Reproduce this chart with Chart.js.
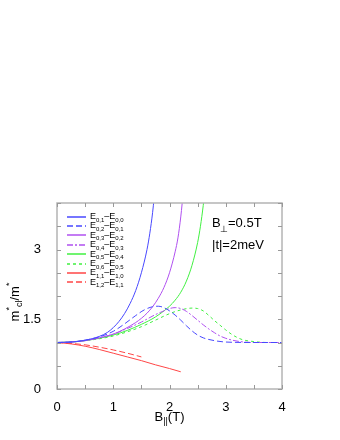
<!DOCTYPE html>
<html>
<head>
<meta charset="utf-8">
<script src="https://cdn.jsdelivr.net/npm/chart.js@4"></script>
<style>html,body{margin:0;padding:0;background:#fff}</style>
</head>
<body>
<canvas id="massRatio" width="340" height="440"></canvas>
<script>
// tick labels
const xTicks = [0, 1, 2, 3, 4];
const yTicks = [0, 1.5, 3];

// E0,1 - E0,0
const b01 = [0, 0.25, 0.5, 0.75, 0.9, 1.0, 1.1, 1.2, 1.3, 1.4, 1.5, 1.6, 1.65, 1.7, 1.75];
const m01 = [1, 1.01, 1.05, 1.13, 1.22, 1.32, 1.45, 1.62, 1.84, 2.12, 2.5, 3.0, 3.35, 3.8, 4.4];
// E0,2 - E0,1
const b12 = [0, 0.25, 0.5, 0.75, 1.0, 1.2, 1.4, 1.55, 1.7, 1.8, 1.9, 2.0, 2.1, 2.2, 2.3, 2.4, 2.5, 2.6, 2.8, 3.0, 3.5, 4.0];
const m12 = [1, 1.01, 1.05, 1.12, 1.24, 1.4, 1.58, 1.7, 1.77, 1.78, 1.75, 1.68, 1.59, 1.48, 1.36, 1.25, 1.16, 1.1, 1.04, 1.01, 1.0, 1.0];
// E0,3 - E0,2
const b23 = [0, 0.25, 0.5, 0.75, 1.0, 1.2, 1.4, 1.5, 1.6, 1.7, 1.8, 1.9, 2.0, 2.1, 2.15, 2.2, 2.25];
const m23 = [1, 1.01, 1.04, 1.1, 1.18, 1.29, 1.43, 1.52, 1.63, 1.77, 1.95, 2.18, 2.5, 2.95, 3.25, 3.7, 4.3];
// E0,4 - E0,3
const b34 = [0, 0.25, 0.5, 0.75, 1.0, 1.25, 1.5, 1.75, 1.9, 2.0, 2.1, 2.2, 2.3, 2.4, 2.5, 2.6, 2.7, 2.8, 2.9, 3.0, 3.2, 3.5, 4.0];
const m34 = [1, 1.01, 1.04, 1.1, 1.18, 1.3, 1.44, 1.6, 1.68, 1.73, 1.75, 1.73, 1.67, 1.58, 1.48, 1.38, 1.29, 1.21, 1.14, 1.09, 1.03, 1.0, 1.0];
// E0,5 - E0,4
const b45 = [0, 0.25, 0.5, 0.75, 1.0, 1.25, 1.5, 1.75, 2.0, 2.1, 2.2, 2.3, 2.4, 2.5, 2.55, 2.6, 2.65];
const m45 = [1, 1.01, 1.04, 1.09, 1.16, 1.26, 1.39, 1.55, 1.78, 1.91, 2.08, 2.32, 2.66, 3.15, 3.5, 3.95, 4.5];
// E0,6 - E0,5
const b56 = [0, 0.25, 0.5, 0.75, 1.0, 1.25, 1.5, 1.75, 2.0, 2.2, 2.4, 2.5, 2.6, 2.7, 2.8, 2.9, 3.0, 3.1, 3.2, 3.3, 3.5, 3.75, 4.0];
const m56 = [1, 1.01, 1.04, 1.08, 1.14, 1.23, 1.34, 1.48, 1.62, 1.7, 1.74, 1.73, 1.68, 1.58, 1.47, 1.37, 1.27, 1.18, 1.11, 1.06, 1.02, 1.0, 1.0];
// E1,1 - E1,0
const b10 = [0, 0.25, 0.5, 0.75, 1.0, 1.25, 1.5, 1.75, 2.0, 2.2];
const m10 = [1, 0.97, 0.92, 0.85, 0.77, 0.69, 0.61, 0.52, 0.44, 0.37];
// E1,2 - E1,1
const b11 = [0, 0.25, 0.5, 0.75, 1.0, 1.25, 1.5];
const m11 = [1, 0.98, 0.95, 0.9, 0.84, 0.77, 0.69];

const seriesLabels = [
  'E_{0,1}–E_{0,0}', 'E_{0,2}–E_{0,1}', 'E_{0,3}–E_{0,2}', 'E_{0,4}–E_{0,3}',
  'E_{0,5}–E_{0,4}', 'E_{0,6}–E_{0,5}', 'E_{1,1}–E_{1,0}', 'E_{1,2}–E_{1,1}'
];

const FONT = "'Liberation Sans', Arial, sans-serif";
const blue = '#4848ff', purple = '#b050f0', green = '#40f040', red = '#ff4646';

function pts(bs, ms) {
  return bs.map((b, i) => ({ x: b, y: ms[i] }));
}

function series(i, bs, ms, color, dash) {
  return {
    label: seriesLabels[i],
    data: pts(bs, ms),
    borderColor: color,
    backgroundColor: color,
    borderWidth: 1,
    borderDash: dash,
    pointRadius: 0,
    cubicInterpolationMode: 'monotone',
    fill: false
  };
}

// parse "E_{0,1}" style text into parts
function parseRich(str) {
  const parts = [];
  const re = /([_^])\{([^}]*)\}|([^_^]+)/g;
  let m;
  while ((m = re.exec(str))) {
    if (m[3]) parts.push({ t: m[3], k: 'n' });
    else parts.push({ t: m[2], k: m[1] === '_' ? 'sub' : 'sup' });
  }
  return parts;
}

function drawRich(ctx, str, x, y, size, align) {
  const parts = parseRich(str);
  const small = Math.round(size * 0.68);
  let w = 0;
  parts.forEach(p => {
    ctx.font = (p.k === 'n' ? size : small) + 'px ' + FONT;
    p.w = ctx.measureText(p.t).width;
    w += p.w;
  });
  let cx = align === 'center' ? x - w / 2 : x;
  ctx.textBaseline = 'middle';
  ctx.textAlign = 'left';
  parts.forEach(p => {
    ctx.font = (p.k === 'n' ? size : small) + 'px ' + FONT;
    let dy = 0;
    if (p.k === 'sub') dy = size * 0.38;
    if (p.k === 'sup') dy = -size * 0.4;
    ctx.fillText(p.t, cx, y + dy);
    cx += p.w;
  });
}

const decorations = {
  id: 'decorations',
  afterDraw(chart) {
    const ctx = chart.ctx;
    const a = chart.chartArea;
    const xs = chart.scales.x, ys = chart.scales.y;
    ctx.save();
    // frame
    ctx.strokeStyle = '#b4b4b4';
    ctx.lineWidth = 1.5;
    ctx.strokeRect(a.left, a.top, a.right - a.left, a.bottom - a.top);
    // inward ticks on all sides
    ctx.strokeStyle = '#999';
    ctx.lineWidth = 1;
    ctx.beginPath();
    for (let v = 0; v <= 4.001; v += 0.5) {
      const px = Math.round(xs.getPixelForValue(v)) + 0.5;
      ctx.moveTo(px, a.bottom); ctx.lineTo(px, a.bottom - 4);
      ctx.moveTo(px, a.top); ctx.lineTo(px, a.top + 4);
      const py = Math.round(ys.getPixelForValue(v)) + 0.5;
      ctx.moveTo(a.left, py); ctx.lineTo(a.left + 4, py);
      ctx.moveTo(a.right, py); ctx.lineTo(a.right - 4, py);
    }
    ctx.stroke();

    // legend
    ctx.fillStyle = '#000';
    chart.data.datasets.forEach((ds, i) => {
      const y = a.top + 13.5 + i * 9.4;
      ctx.strokeStyle = ds.borderColor;
      ctx.lineWidth = 1.5;
      ctx.setLineDash(ds.borderDash || []);
      ctx.beginPath();
      ctx.moveTo(a.left + 10, Math.round(y));
      ctx.lineTo(a.left + 29, Math.round(y));
      ctx.stroke();
      ctx.setLineDash([]);
      drawRich(ctx, ds.label, a.left + 33, y, 9, 'left');
    });

    // annotations
    drawRich(ctx, 'B', a.left + 155, a.top + 20, 13, 'left');
    drawRich(ctx, '_{⊥}', a.left + 163, a.top + 22, 13, 'left');
    drawRich(ctx, '=0.5T', a.left + 171, a.top + 20, 13, 'left');
    drawRich(ctx, '|t|=2meV', a.left + 155, a.top + 42, 13, 'left');

    // axis titles
    drawRich(ctx, 'B_{||}(T)', (a.left + a.right) / 2, 417, 13, 'center');
    ctx.translate(15, (a.top + a.bottom) / 2 + 6);
    ctx.rotate(-Math.PI / 2);
    drawRich(ctx, 'm^{*}_{cl}/m^{*}', 0, 0, 13, 'center');
    ctx.restore();
  }
};

const datasets = [
  series(0, b01, m01, blue, []),
  series(1, b12, m12, blue, [6, 3]),
  series(2, b23, m23, purple, []),
  series(3, b34, m34, purple, [6, 2, 2, 2]),
  series(4, b45, m45, green, []),
  series(5, b56, m56, green, [3, 3]),
  series(6, b10, m10, red, []),
  series(7, b11, m11, red, [6, 3])
];

const config = {
  type: 'line',
  data: { datasets: datasets },
  options: {
    responsive: false,
    animation: false,
    layout: { padding: { left: 0, top: 203, right: 58, bottom: 0 } },
    plugins: { legend: { display: false }, tooltip: { enabled: false } },
    scales: {
      x: {
        type: 'linear',
        min: 0,
        max: 4,
        afterBuildTicks: s => { s.ticks = xTicks.map(v => ({ value: v })); },
        afterFit: s => { s.height = 51; },
        grid: { display: false },
        border: { display: false },
        ticks: { padding: 3, color: '#000', font: { family: FONT, size: 13 } }
      },
      y: {
        min: 0,
        max: 4,
        afterBuildTicks: s => { s.ticks = yTicks.map(v => ({ value: v })); },
        afterFit: s => { s.width = 57; },
        grid: { display: false },
        border: { display: false },
        ticks: { padding: 8, color: '#000', font: { family: FONT, size: 13 } }
      }
    }
  },
  plugins: [decorations]
};

var massRatio = new Chart(document.getElementById('massRatio').getContext('2d'), config);
</script>
</body>
</html>
